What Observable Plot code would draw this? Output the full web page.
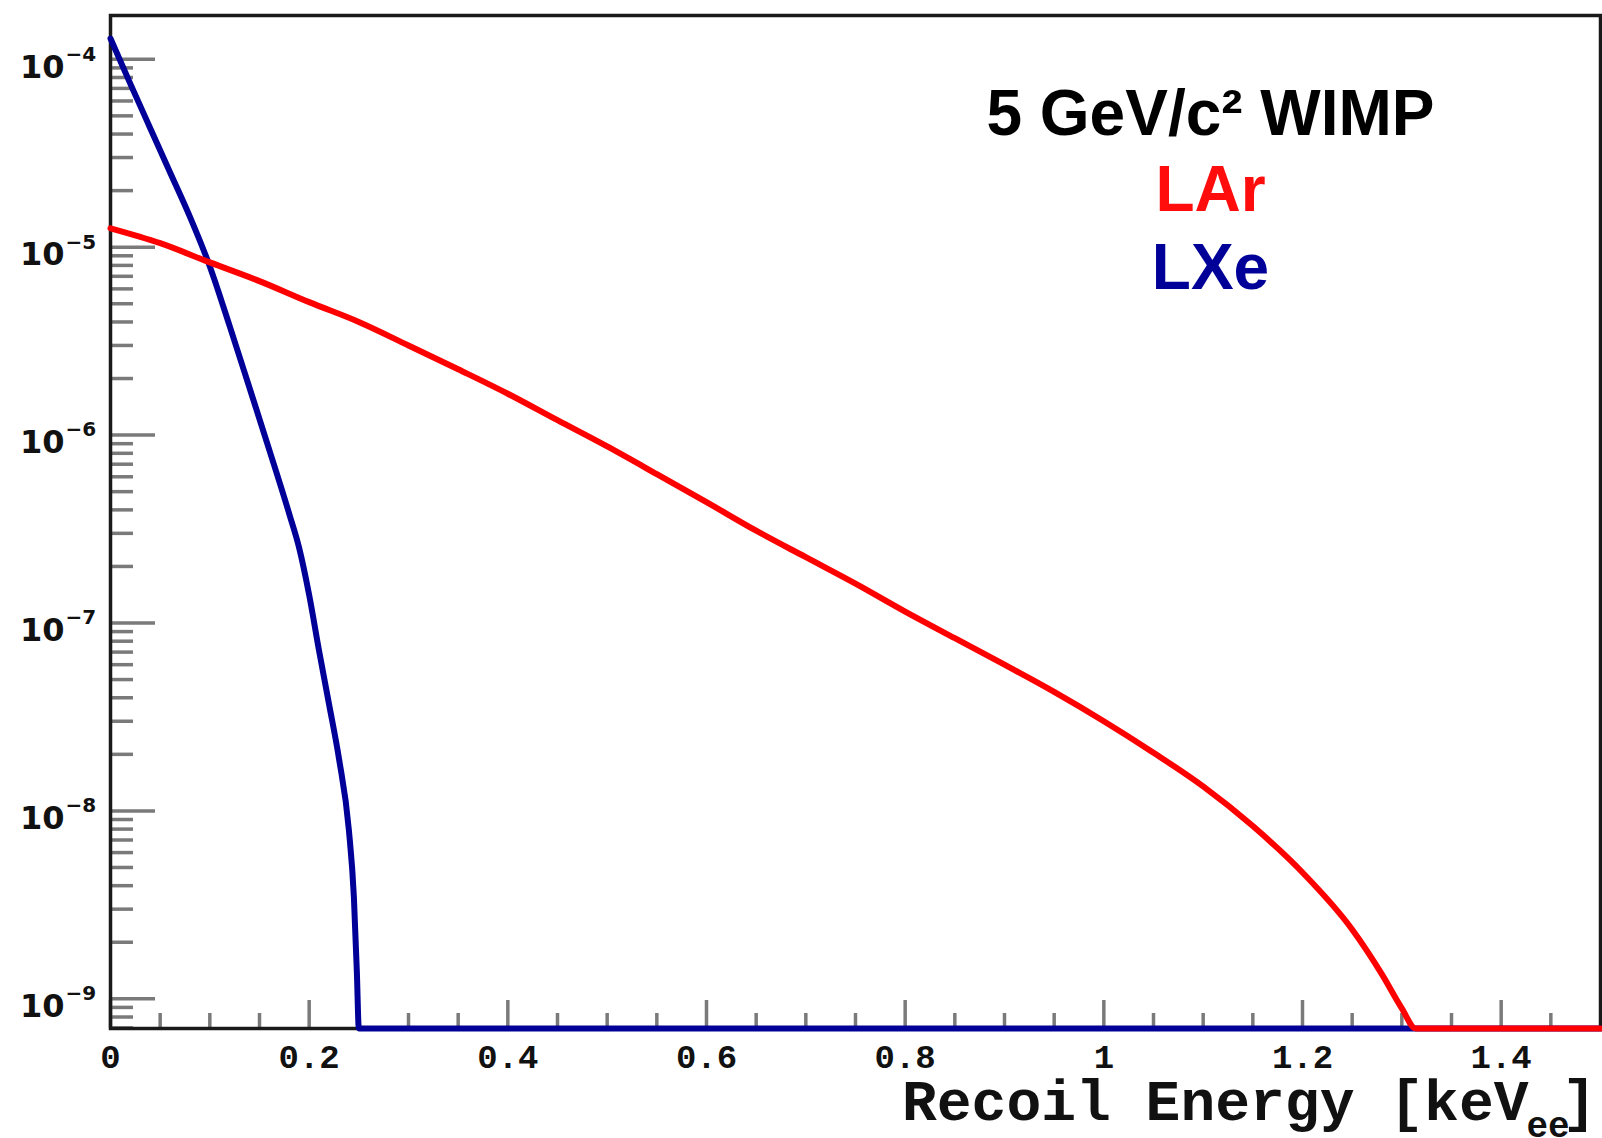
<!DOCTYPE html>
<html>
<head>
<meta charset="utf-8">
<script src="https://cdn.jsdelivr.net/npm/d3@7"></script>
<script src="https://cdn.jsdelivr.net/npm/@observablehq/plot@0.6"></script>
<style>
  html, body { margin: 0; padding: 0; background: #ffffff; overflow: hidden; }
  #chart svg { display: block; }
</style>
</head>
<body>
<div id="chart"></div>
<script>
// ---- Data ----
// Recoil energy [keV_ee] and differential rate; 0 = empty bin (drawn on the frame floor)
const energyLAr = [0.00, 0.05, 0.10, 0.15, 0.20, 0.25, 0.30, 0.35, 0.40, 0.45, 0.50, 0.55, 0.60, 0.65,
                   0.70, 0.75, 0.80, 0.85, 0.90, 0.95, 1.00, 1.05, 1.10, 1.15, 1.20, 1.25, 1.28, 1.30, 1.314, 1.50];
const rateLAr   = [1.26e-5, 1.05e-5, 8.3e-6, 6.6e-6, 5.1e-6, 4.0e-6, 3.0e-6, 2.24e-6, 1.66e-6, 1.20e-6,
                   8.7e-7, 6.2e-7, 4.4e-7, 3.1e-7, 2.24e-7, 1.62e-7, 1.15e-7, 8.3e-8, 6.0e-8, 4.3e-8,
                   3.0e-8, 2.04e-8, 1.35e-8, 8.3e-9, 4.7e-9, 2.34e-9, 1.35e-9, 8.9e-10, 0, 0];

const energyLXe = [0.000, 0.02, 0.04, 0.06, 0.08, 0.10, 0.12, 0.14, 0.16, 0.18, 0.19, 0.20, 0.21,
                   0.22, 0.23, 0.24, 0.245, 0.248, 0.250, 1.50];
const rateLXe   = [1.29e-4, 7.4e-5, 4.3e-5, 2.5e-5, 1.45e-5, 7.9e-6, 3.8e-6, 1.78e-6, 8.3e-7, 3.8e-7,
                   2.5e-7, 1.41e-7, 7.1e-8, 3.7e-8, 1.9e-8, 7.9e-9, 3.5e-9, 1.4e-9, 0, 0];

const xMajorTicks = [0, 0.2, 0.4, 0.6, 0.8, 1.0, 1.2, 1.4];
const xTickLabels = ["0", "0.2", "0.4", "0.6", "0.8", "1", "1.2", "1.4"];
const xMinorTicks = [0.05, 0.1, 0.15, 0.25, 0.3, 0.35, 0.45, 0.5, 0.55, 0.65, 0.7, 0.75, 0.85, 0.9, 0.95,
                     1.05, 1.1, 1.15, 1.25, 1.3, 1.35, 1.45];
const yMajorTicks = [1e-9, 1e-8, 1e-7, 1e-6, 1e-5, 1e-4];
const yTickExponents = ["\u22129", "\u22128", "\u22127", "\u22126", "\u22125", "\u22124"];
const xTitle = "Recoil Energy [keV";
const xTitleSub = "ee";
const legendTitle = ["5 GeV/c\u00B2 WIMP"];
const legendLAr = ["LAr"];
const legendLXe = ["LXe"];

// ---- Layout ----
const W = 1602, H = 1138;
const mL = 110, mR = 2, mT = 15, mB = 110;
const plotW = W - mL - mR, plotH = H - mT - mB;
const yMin = 6.95e-10, yMax = 1.71e-4;

const yMinorTicks = yMajorTicks.flatMap(d => [2,3,4,5,6,7,8,9].map(k => k * d))
  .concat([7e-10, 8e-10, 9e-10])
  .filter(v => v >= yMin && v <= yMax);

const lar = energyLAr.map((e, i) => ({e, r: rateLAr[i] > 0 ? rateLAr[i] : yMin}));
const lxe = energyLXe.map((e, i) => ({e, r: rateLXe[i] > 0 ? rateLXe[i] : yMin}));
const xLab = xMajorTicks.map((v, i) => ({v, t: xTickLabels[i]}));
const yLab = yMajorTicks.map((v, i) => ({v, t: yTickExponents[i]}));

const tickColor = "#7a7a7a";
const sans = "Liberation Sans, Arial, Helvetica, sans-serif";
const labelSans = "DejaVu Sans, Liberation Sans, sans-serif";
const mono = "Liberation Mono, Courier New, monospace";

const chart = Plot.plot({
  width: W, height: H,
  marginLeft: mL, marginRight: mR, marginTop: mT, marginBottom: mB,
  style: {background: "#ffffff", overflow: "visible"},
  x: {domain: [0, 1.5], axis: null},
  y: {type: "log", domain: [yMin, yMax], axis: null},
  marks: [
    // inner ticks (ROOT style)
    Plot.tickY(yMinorTicks, {y: d => d, stroke: tickColor, strokeWidth: 3.5, insetRight: plotW - 23}),
    Plot.tickY(yMajorTicks, {y: d => d, stroke: tickColor, strokeWidth: 3.5, insetRight: plotW - 45}),
    Plot.tickX(xMinorTicks, {x: d => d, stroke: tickColor, strokeWidth: 3.5, insetTop: plotH - 15}),
    Plot.tickX(xMajorTicks, {x: d => d, stroke: tickColor, strokeWidth: 3.5, insetTop: plotH - 28}),
    Plot.frame({stroke: "#1a1a1a", strokeWidth: 3.5}),
    // curves
    Plot.line(lxe, {x: "e", y: "r", stroke: "#000099", strokeWidth: 6, curve: "monotone-x"}),
    Plot.line(lar, {x: "e", y: "r", stroke: "#ff0000", strokeWidth: 6, curve: "monotone-x"}),
    // y tick labels 10^n
    Plot.text(yLab, {y: "v", frameAnchor: "left", text: () => "10", textAnchor: "end", dx: -46, dy: 8,
      fontSize: 32, fontWeight: "bold", fontFamily: labelSans, fill: "#111"}),
    Plot.text(yLab, {y: "v", frameAnchor: "left", text: "t", textAnchor: "start", dx: -45, dy: -5,
      fontSize: 20, fontWeight: "bold", fontFamily: labelSans, fill: "#111"}),
    // x tick labels
    Plot.text(xLab, {x: "v", frameAnchor: "bottom", text: "t", dy: 39,
      fontSize: 34, fontWeight: "bold", fontFamily: mono, fill: "#111"}),
    // x axis title with subscript
    Plot.text([xTitle], {frameAnchor: "bottom-right", textAnchor: "end", dx: -72, dy: 91,
      fontSize: 58, fontWeight: "bold", fontFamily: mono, fill: "#111"}),
    Plot.text([xTitleSub], {frameAnchor: "bottom-right", textAnchor: "start", dx: -74, dy: 108,
      fontSize: 36, fontWeight: "bold", fontFamily: mono, fill: "#111"}),
    Plot.text(["]"], {frameAnchor: "bottom-right", textAnchor: "end", dx: -4, dy: 91,
      fontSize: 58, fontWeight: "bold", fontFamily: mono, fill: "#111"}),
    // legend
    Plot.text(legendTitle, {frameAnchor: "top-left", textAnchor: "middle", lineAnchor: "top", dx: 1100, dy: 74,
      fontSize: 64, fontWeight: "bold", fontFamily: sans, fill: "#000000"}),
    Plot.text(legendLAr, {frameAnchor: "top-left", textAnchor: "middle", lineAnchor: "top", dx: 1100, dy: 150,
      fontSize: 64, fontWeight: "bold", fontFamily: sans, fill: "#ff0d0d"}),
    Plot.text(legendLXe, {frameAnchor: "top-left", textAnchor: "middle", lineAnchor: "top", dx: 1100, dy: 228,
      fontSize: 64, fontWeight: "bold", fontFamily: sans, fill: "#000099"})
  ]
});
document.getElementById("chart").appendChild(chart);
</script>
</body>
</html>
